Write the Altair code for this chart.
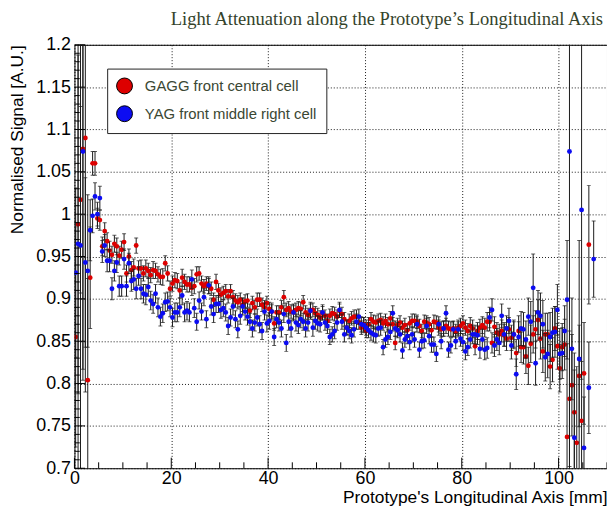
import altair as alt
import pandas as pd

TITLE = "Light Attenuation along the Prototype\u2019s Longitudinal Axis"
X_TITLE = "Prototype's Longitudinal Axis [mm]"
Y_TITLE = "Normalised Signal [A.U.]"
SERIES = ["GAGG front central cell", "YAG front middle right cell"]
COLORS = ["#dd0000", "#0c0cf2"]

# bin centres: 0.25 mm, 0.75 mm, ... (0.5 mm bins)
BIN_START = 0.25
BIN_WIDTH = 0.5

# values in 1/1000 A.U. (None = empty bin)
GAGG = [
    855, 988, 1017, 1077, 1090, 804, 925, 1060, 1060, 995,
    993, 962, 980, 968, 957, 952, 965, 962, 951, 958,
    967, 930, 950, 934, 937, 963, 936, 936, 930, 936,
    933, 928, 934, 933, 929, 926, 926, 942, 930, 912,
    918, 922, 921, 910, 925, 920, 917, 917, 913, 915,
    929, 930, 918, 915, 918, 915, 912, 899, 920, 910,
    905, 907, 909, 903, 909, 902, 898, 896, 899, 893,
    897, 898, 886, 895, 890, 899, 899, 893, 890, 895,
    888, 885, 871, 884, 884, 890, 902, 887, 889, 885,
    884, 887, 889, 888, 896, 884, 881, 886, 887, 883,
    881, 878, 883, 880, 874, 880, 883, 882, 879, 886,
    882, 876, 866, 874, 877, 879, 879, 872, 866, 870,
    862, 870, 876, 873, 872, 874, 875, 871, 874, 870,
    877, 870, 848, 869, 872, 866, 869, 863, 871, 874,
    874, 873, 868, 862, 873, 872, 870, 863, 873, 872,
    866, 864, 865, 868, 865, 864, 865, 861, 866, 868,
    871, 866, 862, 868, 865, 844, 862, 866, 869, 866,
    873, 873, 848, 867, 860, 858, 862, 857, 853, 864,
    854, 858, 836, 862, 843, 843, 832, 821, 847, 858,
    864, 875, 853, 838, 858, 858, 820, 828, 865, 844,
    818, 843, 846, 737, 782, 798, 766, 730, 809, 756,
    812, None, 964, None, None,
]
GAGG_ERR = [
    130, 200, 110, 260, 300, 120, 60, 14, 14, 12,
    12, 11, 10, 10, 11, 10, 10, 10, 11, 10,
    10, 10, 9, 10, 10, 9, 9, 10, 9, 10,
    9, 9, 10, 9, 9, 9, 10, 9, 9, 9,
    9, 9, 9, 9, 10, 9, 9, 9, 9, 9,
    9, 8, 9, 8, 8, 9, 8, 8, 9, 8,
    8, 8, 8, 8, 8, 8, 8, 8, 8, 8,
    8, 8, 8, 8, 8, 8, 8, 8, 8, 8,
    8, 8, 8, 8, 8, 8, 8, 8, 8, 8,
    8, 8, 8, 8, 8, 8, 8, 8, 8, 8,
    8, 8, 8, 7, 8, 8, 8, 8, 8, 8,
    8, 8, 8, 8, 8, 8, 8, 8, 8, 8,
    8, 8, 8, 8, 8, 8, 8, 8, 8, 8,
    8, 8, 8, 8, 8, 8, 8, 8, 8, 8,
    8, 8, 8, 8, 8, 8, 8, 8, 8, 8,
    9, 9, 9, 9, 9, 9, 9, 9, 9, 9,
    9, 9, 9, 10, 10, 10, 10, 10, 10, 11,
    11, 11, 12, 12, 12, 12, 13, 13, 14, 14,
    15, 15, 16, 18, 18, 20, 20, 22, 22, 22,
    22, 24, 24, 25, 25, 25, 26, 26, 26, 27,
    28, 28, 30, 110, 80, 60, 70, 90, 60, 70,
    60, 0, 70, 0, 0,
]
YAG = [
    931, 965, 963, 1074, 943, 933, 981, 998, 1021, 1000,
    1019, 956, 963, 945, 945, 912, 933, 943, 915, 915,
    947, 915, 942, 921, 923, 912, 927, 912, 906, 905,
    914, 898, 894, 906, 890, 879, 883, 896, 897, 890,
    878, 884, 884, 890, 904, 884, 886, 884, 923, 889,
    873, 898, 885, 902, 876, 916, 891, 882, 894, 894,
    887, 889, 884, 868, 878, 891, 876, 864, 880, 891,
    885, 879, 873, 865, 872, 878, 870, 862, 885, 871,
    874, 885, 855, 876, 872, 865, 882, 848, 873, 865,
    884, 872, 869, 876, 873, 865, 872, 886, 866, 874,
    871, 870, 884, 872, 868, 855, 858, 862, 872, 887,
    873, 858, 866, 862, 857, 864, 873, 879, 870, 869,
    866, 863, 860, 858, 857, 865, 866, 843, 852, 855,
    861, 883, 865, 863, 858, 839, 852, 856, 849, 858,
    852, 870, 840, 850, 851, 868, 856, 846, 846, 835,
    870, 850, 865, 883, 840, 845, 864, 850, 864, 853,
    849, 838, 843, 852, 858, 858, 857, 841, 852, 840,
    842, 878, 887, 845, 852, 848, 880, 858, 865, 874,
    845, 858, 811, 855, 865, 864, 852, 879, 873, 913,
    824, 884, 880, 870, 831, 835, 855, 860, 861, 887,
    835, 836, 862, 899, 1074, 841, 736, None, 829, 1005,
    724, None, 795, None, 947,
]
YAG_ERR = [
    100, 300, 280, 270, 100, 90, 36, 20, 16, 14,
    14, 13, 13, 13, 13, 13, 12, 12, 12, 12,
    12, 12, 12, 12, 12, 12, 11, 12, 11, 12,
    11, 11, 11, 11, 11, 11, 11, 11, 11, 11,
    11, 11, 11, 11, 11, 11, 11, 11, 11, 11,
    10, 10, 10, 10, 10, 10, 10, 10, 10, 10,
    10, 10, 10, 10, 10, 10, 10, 10, 10, 10,
    10, 10, 10, 10, 10, 10, 10, 10, 10, 10,
    10, 10, 10, 10, 10, 10, 10, 10, 10, 10,
    10, 10, 10, 10, 10, 10, 10, 10, 10, 10,
    9, 9, 9, 9, 9, 9, 9, 9, 9, 9,
    9, 9, 9, 9, 9, 9, 9, 9, 9, 9,
    9, 9, 9, 9, 9, 9, 9, 9, 9, 9,
    9, 9, 9, 9, 9, 9, 9, 9, 9, 9,
    9, 9, 9, 9, 9, 9, 9, 9, 9, 9,
    9, 9, 9, 9, 9, 9, 9, 9, 9, 9,
    10, 10, 10, 10, 11, 11, 11, 11, 12, 12,
    12, 12, 13, 13, 13, 14, 14, 14, 15, 15,
    16, 17, 18, 18, 20, 20, 22, 22, 24, 40,
    26, 26, 27, 28, 28, 28, 29, 29, 30, 30,
    30, 30, 30, 70, 400, 60, 80, 0, 140, 200,
    60, 0, 54, 0, 45,
]

X_TICKS = [0, 20, 40, 60, 80, 100]
X_MINOR = [5, 10, 15, 25, 30, 35, 45, 50, 55, 65, 70, 75, 85, 90, 95, 105, 110]
Y_TICKS = [0.7, 0.75, 0.8, 0.85, 0.9, 0.95, 1.0, 1.05, 1.1, 1.15, 1.2]
Y_MINOR = [0.71, 0.72, 0.73, 0.74, 0.76, 0.77, 0.78, 0.79, 0.81, 0.82, 0.83, 0.84,
           0.86, 0.87, 0.88, 0.89, 0.91, 0.92, 0.93, 0.94, 0.96, 0.97, 0.98, 0.99,
           1.01, 1.02, 1.03, 1.04, 1.06, 1.07, 1.08, 1.09, 1.11, 1.12, 1.13, 1.14,
           1.16, 1.17, 1.18, 1.19]

X_DOMAIN = [0, 110]
Y_DOMAIN = [0.7, 1.2]

rows = []
for name, vals, errs in [(SERIES[0], GAGG, GAGG_ERR), (SERIES[1], YAG, YAG_ERR)]:
    for i, (v, e) in enumerate(zip(vals, errs)):
        if v is None:
            continue
        rows.append({
            "series": name,
            "x": BIN_START + BIN_WIDTH * i,
            "y": v / 1000.0,
            "lo": (v - e) / 1000.0,
            "hi": (v + e) / 1000.0,
        })
df = pd.DataFrame(rows)

# inward tick marks (ROOT style), lengths expressed in axis units
ytick_df = pd.DataFrame({"t": Y_TICKS, "a": 0.0, "b": 2.2})
yminor_df = pd.DataFrame({"t": Y_MINOR, "a": 0.0, "b": 1.1})
xtick_df = pd.DataFrame({"t": X_TICKS, "a": 0.7, "b": 0.7125})
xminor_df = pd.DataFrame({"t": X_MINOR, "a": 0.7, "b": 0.707})

FONT = "Liberation Sans"
xs = alt.Scale(domain=X_DOMAIN, nice=False, zero=False)
ys = alt.Scale(domain=Y_DOMAIN, nice=False, zero=False)
col = alt.Color("series:N", scale=alt.Scale(domain=SERIES, range=COLORS),
                legend=alt.Legend(
                    title=None, orient="none", legendX=33, legendY=24,
                    labelFont=FONT, labelFontSize=15, labelColor="#3b4733",
                    symbolType="circle", symbolSize=256, symbolStrokeColor="#000000",
                    symbolStrokeWidth=1, symbolOpacity=1,
                    strokeColor="#222222", fillColor="#ffffff", padding=9,
                    rowPadding=7, labelOffset=12, labelLimit=400))

x_axis = alt.Axis(values=X_TICKS, grid=True, gridDash=[1, 2], gridColor="#000000",
                  gridOpacity=0.9, ticks=False, domain=False, labelFont=FONT,
                  labelFontSize=18, labelColor="#000000", labelPadding=1,
                  labelFlush=False,
                  title=X_TITLE, titleFont=FONT, titleFontSize=17.5,
                  titleFontWeight="normal", titleColor="#000000",
                  titleAnchor="end", titleAlign="right", titleX=537, titleY=34.5,
                  titleBaseline="alphabetic", format="d")
y_axis = alt.Axis(values=Y_TICKS, grid=True, gridDash=[1, 2], gridColor="#000000",
                  gridOpacity=0.9, ticks=False, domain=False, labelFont=FONT,
                  labelFontSize=18, labelColor="#000000", labelPadding=4,
                  labelFlush=False,
                  format="~g", title=Y_TITLE, titleFont=FONT, titleFontSize=17.5,
                  titleFontWeight="normal", titleColor="#000000",
                  titleAngle=270, titleAlign="right", titleBaseline="middle",
                  titleX=-57, titleY=0)


def X(field):
    return alt.X(field, scale=xs, axis=x_axis)


def Y(field):
    return alt.Y(field, scale=ys, axis=y_axis)


base = alt.Chart(df)
ERR_COLOR = "#1a1a1a"


def series_layers(name):
    d = base.transform_filter(alt.datum.series == name)
    bars = d.mark_rule(color=ERR_COLOR, strokeWidth=1, clip=True).encode(
        x=X("x:Q"), y=Y("lo:Q"), y2="hi:Q")
    cap_lo = d.mark_tick(orient="horizontal", size=4, thickness=1, color=ERR_COLOR,
                         clip=True).encode(x=X("x:Q"), y=Y("lo:Q"))
    cap_hi = d.mark_tick(orient="horizontal", size=4, thickness=1, color=ERR_COLOR,
                         clip=True).encode(x=X("x:Q"), y=Y("hi:Q"))
    pts = d.mark_circle(size=24, opacity=1, clip=True).encode(
        x=X("x:Q"), y=Y("y:Q"), color=col)
    return [bars, cap_lo, cap_hi, pts]


def tick_layer(d, vertical):
    if vertical:
        enc = dict(x=X("t:Q"), y=Y("a:Q"), y2="b:Q")
    else:
        enc = dict(y=Y("t:Q"), x=X("a:Q"), x2="b:Q")
    return alt.Chart(d).mark_rule(color="#000000", strokeWidth=1).encode(**enc)


layers = (series_layers(SERIES[0]) + series_layers(SERIES[1])
          + [tick_layer(ytick_df, False), tick_layer(yminor_df, False),
             tick_layer(xtick_df, True), tick_layer(xminor_df, True)])

chart = alt.layer(*layers).properties(
    width=537, height=427,
    background="#ffffff",
    title=alt.TitleParams(TITLE, font="Liberation Serif", fontSize=18.7,
                          fontWeight="normal", color="#34432b", anchor="end",
                          frame="group", dx=-4, offset=7),
    autosize=alt.AutoSizeParams(type="none"),
    padding={"left": 67, "top": 35, "right": 0, "bottom": 40},
).configure_view(stroke="#000000", strokeWidth=1)

chart.save("out.html", embed_options={"renderer": "svg", "actions": False})
